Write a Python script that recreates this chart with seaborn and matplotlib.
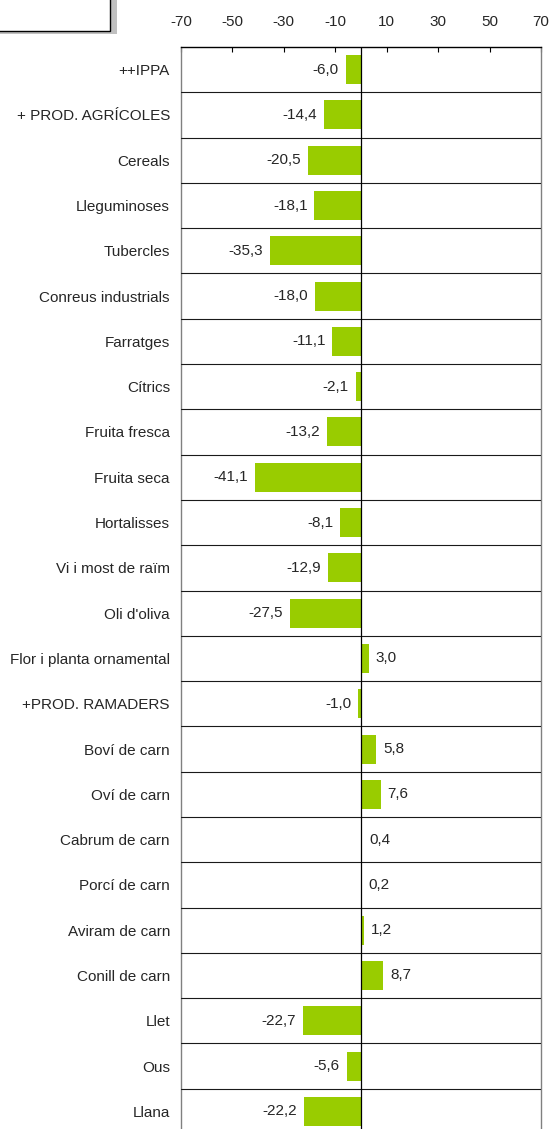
import matplotlib
matplotlib.use('Agg')
import matplotlib.pyplot as plt
import seaborn as sns
from matplotlib.patches import Rectangle

# Data
categories = ["++IPPA", "+ PROD. AGRÍCOLES", "Cereals", "Lleguminoses", "Tubercles",
              "Conreus industrials", "Farratges", "Cítrics", "Fruita fresca", "Fruita seca",
              "Hortalisses", "Vi i most de raïm", "Oli d'oliva", "Flor i planta ornamental",
              "+PROD. RAMADERS", "Boví de carn", "Oví de carn", "Cabrum de carn",
              "Porcí de carn", "Aviram de carn", "Conill de carn", "Llet", "Ous", "Llana"]
values = [-6.0, -14.4, -20.5, -18.1, -35.3, -18.0, -11.1, -2.1, -13.2, -41.1,
          -8.1, -12.9, -27.5, 3.0, -1.0, 5.8, 7.6, 0.4, 0.2, 1.2, 8.7, -22.7, -5.6, -22.2]
tick_values = [-70, -50, -30, -10, 10, 30, 50, 70]

sns.set_style('white')
plt.rcParams['font.family'] = ['Liberation Sans', 'DejaVu Sans']
fs = 11

fig = plt.figure(figsize=(5.51, 11.29), dpi=100)
ax = fig.add_axes([181/551, -5/1129, 360/551, 1087/1129])

sns.barplot(x=values, y=categories, orient='h', color='#99CC00', saturation=1,
            width=0.64, linewidth=0, ax=ax, zorder=5)

ax.set_xlim(-70, 70)
ax.set_ylim(len(categories) - 0.5, -0.5)

# row separators and zero line
for i in range(len(categories) - 1):
    ax.axhline(i + 0.5, color='#1a1a1a', lw=0.8, zorder=3)
ax.axvline(0, color='black', lw=0.9, zorder=6)

# value labels
for i, v in enumerate(values):
    txt = f"{v:.1f}".replace('.', ',')
    off = 5 if v >= 0 else -5
    ax.annotate(txt, (v, i), xytext=(off, 0), textcoords='offset points',
                ha='left' if v >= 0 else 'right', va='center', fontsize=fs)

ax.xaxis.tick_top()
ax.set_xticks(tick_values)
ax.set_xticklabels([str(t) for t in tick_values], fontsize=fs)
ax.tick_params(axis='x', direction='in', length=3.6, width=0.8, pad=13, color='black')
ax.tick_params(axis='y', length=0, pad=8, labelsize=fs)
ax.set_xlabel('')
ax.set_ylabel('')

for s in ['left', 'right']:
    ax.spines[s].set_color('#808080')
    ax.spines[s].set_linewidth(1.0)
ax.spines['top'].set_color('black')
ax.spines['top'].set_linewidth(1.0)
ax.spines['bottom'].set_visible(False)

# box in the top-left corner
fig.add_artist(Rectangle((-10, 1129 - 34), 127, 44, transform=None,
                         facecolor='#C0C0C0', edgecolor='none'))
fig.add_artist(Rectangle((-10, 1129 - 30.5), 120, 40.5, transform=None,
                         facecolor='white', edgecolor='black', lw=1.0))

fig.savefig('out.png', dpi=100)
